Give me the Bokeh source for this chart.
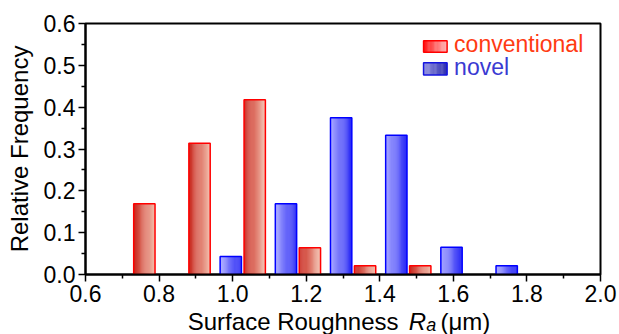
from bokeh.plotting import figure
from bokeh.layouts import column
from bokeh.models import ColumnDataSource, Range1d, FixedTicker, PrintfTickFormatter
from bokeh.core.properties import value
from bokeh.embed import file_html
from bokeh.resources import INLINE

# ---- data ----
rough_conv = [0.76, 0.91, 1.06, 1.21, 1.36, 1.51]
freq_conv = [0.169, 0.314, 0.418, 0.064, 0.021, 0.021]
rough_novel = [0.995, 1.145, 1.295, 1.445, 1.595, 1.745]
freq_novel = [0.043, 0.169, 0.375, 0.333, 0.065, 0.021]
x_ticks = [0.6, 0.8, 1.0, 1.2, 1.4, 1.6, 1.8, 2.0]
x_minor = [0.7, 0.9, 1.1, 1.3, 1.5, 1.7, 1.9]
y_ticks = [0.0, 0.1, 0.2, 0.3, 0.4, 0.5, 0.6]
y_minor = [0.05, 0.15, 0.25, 0.35, 0.45, 0.55]
series_names = ["conventional", "novel"]
y_title = "Relative Frequency"
x_title_parts = ["Surface Roughness", "R", "a", "(μm)"]

# ---- style ----
BAR_W = 0.058
N_SLICES = 20
FONT = value("Liberation Sans")
RED_LEFT, RED_RIGHT = (200, 38, 28), (243, 192, 174)
BLUE_LEFT, BLUE_RIGHT = (170, 170, 255), (38, 38, 245)
LEG_RED_L, LEG_RED_R = (255, 20, 20), (255, 185, 185)
LEG_BLUE_L, LEG_BLUE_R = (150, 150, 225), (45, 45, 175)
W = 618
ML, MR, MT, MB = 85, 18, 23, 35
FRAME_H = 251
TITLE_H = 25


def lerp_color(c0, c1, t):
    r, g, b = (round(a + (b_ - a) * t) for a, b_ in zip(c0, c1))
    return "#%02x%02x%02x" % (r, g, b)


def gradient_slices(xs, tops, bottoms, width, c0, c1):
    left, right, top, bottom, color = [], [], [], [], []
    for x, t_, b_ in zip(xs, tops, bottoms):
        x0 = x - width / 2
        dw = width / N_SLICES
        for i in range(N_SLICES):
            left.append(x0 + i * dw)
            right.append(x0 + (i + 1) * dw + (dw * 0.3 if i < N_SLICES - 1 else 0))
            top.append(t_)
            bottom.append(b_)
            color.append(lerp_color(c0, c1, (i + 0.5) / N_SLICES))
    return ColumnDataSource(dict(left=left, right=right, top=top, bottom=bottom, color=color))


p = figure(width=W, height=MT + FRAME_H + MB, output_backend="svg", toolbar_location=None,
           x_range=Range1d(0.6, 2.0), y_range=Range1d(0.0, 0.6),
           min_border_left=ML, min_border_right=MR, min_border_top=MT, min_border_bottom=MB)
p.xgrid.visible = False
p.ygrid.visible = False
p.outline_line_color = "black"
p.outline_line_width = 2
p.background_fill_color = "white"
p.border_fill_color = "white"

# bars with gradient fill
src_c = gradient_slices(rough_conv, freq_conv, [0] * len(freq_conv), BAR_W, RED_LEFT, RED_RIGHT)
p.quad(left="left", right="right", top="top", bottom="bottom", fill_color="color",
       line_color=None, source=src_c)
p.vbar(x=rough_conv, top=freq_conv, width=BAR_W, fill_color=None, line_color="#ff0000", line_width=1.5)

src_n = gradient_slices(rough_novel, freq_novel, [0] * len(freq_novel), BAR_W, BLUE_LEFT, BLUE_RIGHT)
p.quad(left="left", right="right", top="top", bottom="bottom", fill_color="color",
       line_color=None, source=src_n)
p.vbar(x=rough_novel, top=freq_novel, width=BAR_W, fill_color=None, line_color="#0000ff", line_width=1.5)

# legend (manual, gradient swatches)
LEG_X0, LEG_X1 = 1.519, 1.583
LEG_TX = 1.602
leg_rows = [(0.559, 0.531, LEG_RED_L, LEG_RED_R, "#ff0000", "#ff3a12", 0.550),
            (0.506, 0.477, LEG_BLUE_L, LEG_BLUE_R, "#1414e0", "#3a3ad2", 0.4965)]
for (yt, yb, cl, cr, oc, tc, ty), name in zip(leg_rows, series_names):
    src = gradient_slices([(LEG_X0 + LEG_X1) / 2], [yt], [yb], LEG_X1 - LEG_X0, cl, cr)
    p.quad(left="left", right="right", top="top", bottom="bottom", fill_color="color",
           line_color=None, source=src)
    p.quad(left=[LEG_X0], right=[LEG_X1], top=[yt], bottom=[yb], fill_color=None,
           line_color=oc, line_width=1.5)
    p.text(x=[LEG_TX], y=[ty], text=[name], text_color=tc, text_font=FONT,
           text_font_size="23px", text_baseline="middle", text_align="left")

# axes
for ax in (p.xaxis, p.yaxis):
    ax.axis_line_width = 2
    ax.axis_line_color = "black"
    ax.major_tick_line_width = 1.5
    ax.minor_tick_line_width = 1.5
    ax.major_tick_out = 7
    ax.major_tick_in = 0
    ax.minor_tick_out = 4
    ax.minor_tick_in = 0
    ax.major_label_text_font = "Liberation Sans"
    ax.major_label_text_font_size = "23px"
    ax.major_label_text_color = "black"
    ax.major_label_standoff = 3
    ax.axis_label_text_font = "Liberation Sans"
    ax.axis_label_text_font_size = "24px"
    ax.axis_label_text_font_style = "normal"
    ax.axis_label_text_color = "black"

p.xaxis.ticker = FixedTicker(ticks=x_ticks, minor_ticks=x_minor)
p.yaxis.ticker = FixedTicker(ticks=y_ticks, minor_ticks=y_minor)
p.xaxis.formatter = PrintfTickFormatter(format="%.1f")
p.yaxis.formatter = PrintfTickFormatter(format="%.1f")
p.yaxis.axis_label = y_title
p.yaxis.axis_label_standoff = 8
p.xaxis.axis_label = None

# x-axis title strip (same horizontal mapping as the plot)
t = figure(width=W, height=TITLE_H, output_backend="svg", toolbar_location=None,
           x_range=Range1d(0.6, 2.0), y_range=Range1d(0, TITLE_H),
           x_axis_type=None, y_axis_type=None,
           min_border_left=ML, min_border_right=MR, min_border_top=0, min_border_bottom=0)
t.xgrid.visible = False
t.ygrid.visible = False
t.outline_line_color = None
t.background_fill_color = "white"
t.border_fill_color = "white"

TY = 12.6
t.text(x=[0.878], y=[TY], text=[x_title_parts[0]], text_font=FONT, text_font_size="24px",
       text_baseline="middle", text_align="left", text_color="black")
t.text(x=[1.479], y=[TY], text=[x_title_parts[1]], text_font=FONT, text_font_size="24px",
       text_font_style="italic", text_baseline="middle", text_align="left", text_color="black")
t.text(x=[1.526], y=[TY - 2.6], text=[x_title_parts[2]], text_font=FONT, text_font_size="18px",
       text_font_style="italic", text_baseline="middle", text_align="left", text_color="black")
t.text(x=[1.565], y=[TY], text=[x_title_parts[3]], text_font=FONT, text_font_size="24px",
       text_baseline="middle", text_align="left", text_color="black")

layout = column(p, t, spacing=0)
open("out.html", "w").write(file_html(layout, INLINE))
